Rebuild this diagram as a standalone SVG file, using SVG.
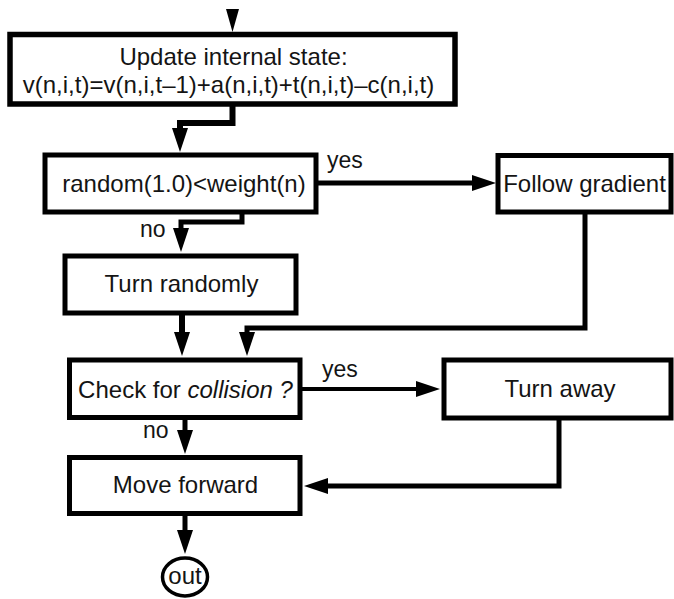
<svg xmlns="http://www.w3.org/2000/svg" width="674" height="599" viewBox="0 0 674 599">
  <style>
    .box { fill: #ffffff; stroke: #000000; stroke-width: 5; }
    .txt { font-family: "Liberation Sans", Arial, sans-serif; font-size: 24px; fill: #141414; text-anchor: middle; }
    .lbl { font-family: "Liberation Sans", Arial, sans-serif; font-size: 23px; fill: #141414; }
    .con { fill: none; stroke: #000000; stroke-width: 5; stroke-linejoin: miter; marker-end: url(#arr); }
  </style>
  <defs>
    <marker id="arr" markerUnits="userSpaceOnUse" markerWidth="26" markerHeight="18" refX="1" refY="8" orient="auto" overflow="visible">
      <path d="M0,0 L24,8 L0,16 Z" fill="#000000"/>
    </marker>
  </defs>
  <rect width="674" height="599" fill="#ffffff"/>

  <g id="connectors">
    <polygon points="226,9 239,9 232.5,32" fill="#000000"/>
    <path class="con" d="M232.5,104 V123 H180 V129" style="stroke-width:6"/>
    <path class="con" d="M318,183 H473"/>
    <path class="con" d="M242,212 V222 H181 V229"/>
    <path class="con" d="M585,212 V328 H247 V333"/>
    <path class="con" d="M182,313 V333" style="stroke-width:6"/>
    <path class="con" d="M302,389 H417" style="stroke-width:4"/>
    <path class="con" d="M185,418 V431"/>
    <path class="con" d="M559,418 V486 H327"/>
    <path class="con" d="M185,513 V531"/>
  </g>

  <g id="labels">
    <text class="lbl" x="327" y="168">yes</text>
    <text class="lbl" x="140" y="237">no</text>
    <text class="lbl" x="322" y="377">yes</text>
    <text class="lbl" x="143" y="438">no</text>
  </g>

  <g id="update">
    <rect class="box" x="10" y="34.5" width="445" height="69.5" style="stroke-width:5.5"/>
    <text class="txt" x="233.5" y="65">Update internal state:</text>
    <text class="txt" x="228.5" y="93">v(n,i,t)=v(n,i,t–1)+a(n,i,t)+t(n,i,t)–c(n,i,t)</text>
  </g>

  <g id="random">
    <rect class="box" x="45" y="155" width="271" height="57"/>
    <text class="txt" x="184" y="192">random(1.0)&lt;weight(n)</text>
  </g>

  <g id="follow">
    <rect class="box" x="498" y="155.5" width="173" height="56.5"/>
    <text class="txt" x="584.5" y="192">Follow gradient</text>
  </g>

  <g id="turnrandom">
    <rect class="box" x="65" y="256" width="231" height="57"/>
    <text class="txt" x="181.5" y="292">Turn randomly</text>
  </g>

  <g id="check">
    <rect class="box" x="69.5" y="360" width="230.5" height="57.5"/>
    <text class="txt" x="185.5" y="398">Check for <tspan font-style="italic">collision ?</tspan></text>
  </g>

  <g id="turnaway">
    <rect class="box" x="444" y="360" width="227" height="58"/>
    <text class="txt" x="560" y="397">Turn away</text>
  </g>

  <g id="move">
    <rect class="box" x="69.5" y="457.5" width="230.5" height="56"/>
    <text class="txt" x="185.5" y="493">Move forward</text>
  </g>

  <g id="out">
    <ellipse cx="185" cy="577" rx="22.5" ry="19" fill="#ffffff" stroke="#000000" stroke-width="3.5"/>
    <text class="txt" x="185" y="584">out</text>
  </g>
</svg>
